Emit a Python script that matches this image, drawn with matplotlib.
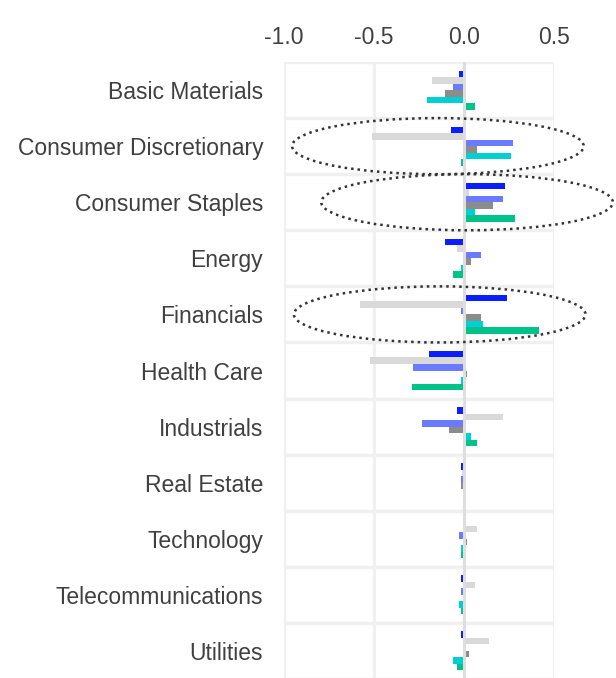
import matplotlib
matplotlib.use("Agg")
import matplotlib.pyplot as plt
from matplotlib.patches import Ellipse
import numpy as np

categories = ["Basic Materials", "Consumer Discretionary", "Consumer Staples", "Energy",
              "Financials", "Health Care", "Industrials", "Real Estate", "Technology",
              "Telecommunications", "Utilities"]

s1 = [-0.028, -0.072, 0.227, -0.105, 0.238, -0.193, -0.039, -0.017, 0.005, -0.017, -0.017]
s2 = [-0.180, -0.512, 0.028, -0.039, -0.578, -0.523, 0.215, -0.010, 0.072, 0.061, 0.138]
s3 = [-0.061, 0.271, 0.215, 0.094, -0.017, -0.282, -0.236, -0.017, -0.028, -0.017, 0.005]
s4 = [-0.103, 0.072, 0.160, 0.039, 0.094, 0.017, -0.083, -0.017, 0.017, 0.008, 0.028]
s5 = [-0.203, 0.260, 0.061, -0.017, 0.105, -0.017, 0.039, 0.008, -0.017, -0.028, -0.061]
s6 = [0.061, -0.017, 0.282, -0.061, 0.414, -0.291, 0.072, 0.0, -0.017, -0.017, -0.039]
series = [s1, s2, s3, s4, s5, s6]
colors = ["#0a1eff", "#d9d9d9", "#6b7bff", "#8c8c8c", "#00cfd3", "#00c389"]

xticks = [-1.0, -0.5, 0.0, 0.5]
xticklabels = ["-1.0", "-0.5", "0.0", "0.5"]

# highlighted categories (dotted ellipses): category, x-centre, width
highlight_cats = ["Consumer Discretionary", "Consumer Staples", "Financials"]
highlight_xc = [-0.145, 0.017, -0.135]
highlight_w = [1.62, 1.62, 1.62]

plt.rcParams['font.family'] = ['Liberation Sans', 'DejaVu Sans']
fig = plt.figure(figsize=(6.16, 6.78), dpi=100)
ax = fig.add_axes([284/616, -1/678, 270/616, 617/678])

n = len(categories)
y = np.arange(n)
bh = 0.116
for i, (vals, c) in enumerate(zip(series, colors)):
    ax.barh(y + (i - 2.5) * bh, vals, height=bh, color=c, zorder=3)

ax.set_xlim(-1.0, 0.5)
ax.set_ylim(n - 0.5, -0.5)

for xv in xticks:
    ax.axvline(xv, color="#f0f0f0", lw=2.2, zorder=1)
ax.axvline(0, color="#dedede", lw=2.2, zorder=4)
for b in np.arange(-0.5, n, 1.0):
    ax.axhline(b, color="#f0f0f0", lw=2.5, zorder=1)

for cat, xc, w in zip(highlight_cats, highlight_xc, highlight_w):
    idx = categories.index(cat)
    e = Ellipse((xc, idx), w, 1.0, fill=False, ec="#333333", lw=1.8,
                ls=(0, (1, 1.6)), clip_on=False, zorder=5)
    ax.add_patch(e)

for s in ax.spines.values():
    s.set_visible(False)
ax.xaxis.tick_top()
ax.set_xticks(xticks)
ax.set_xticklabels(xticklabels)
ax.set_yticks(y)
ax.set_yticklabels(categories)
ax.tick_params(axis='x', length=0, pad=9.5, labelsize=16.5, labelcolor="#404040")
ax.tick_params(axis='y', length=0, pad=15, labelsize=16.5, labelcolor="#404040")

fig.savefig("out.png", dpi=100)
